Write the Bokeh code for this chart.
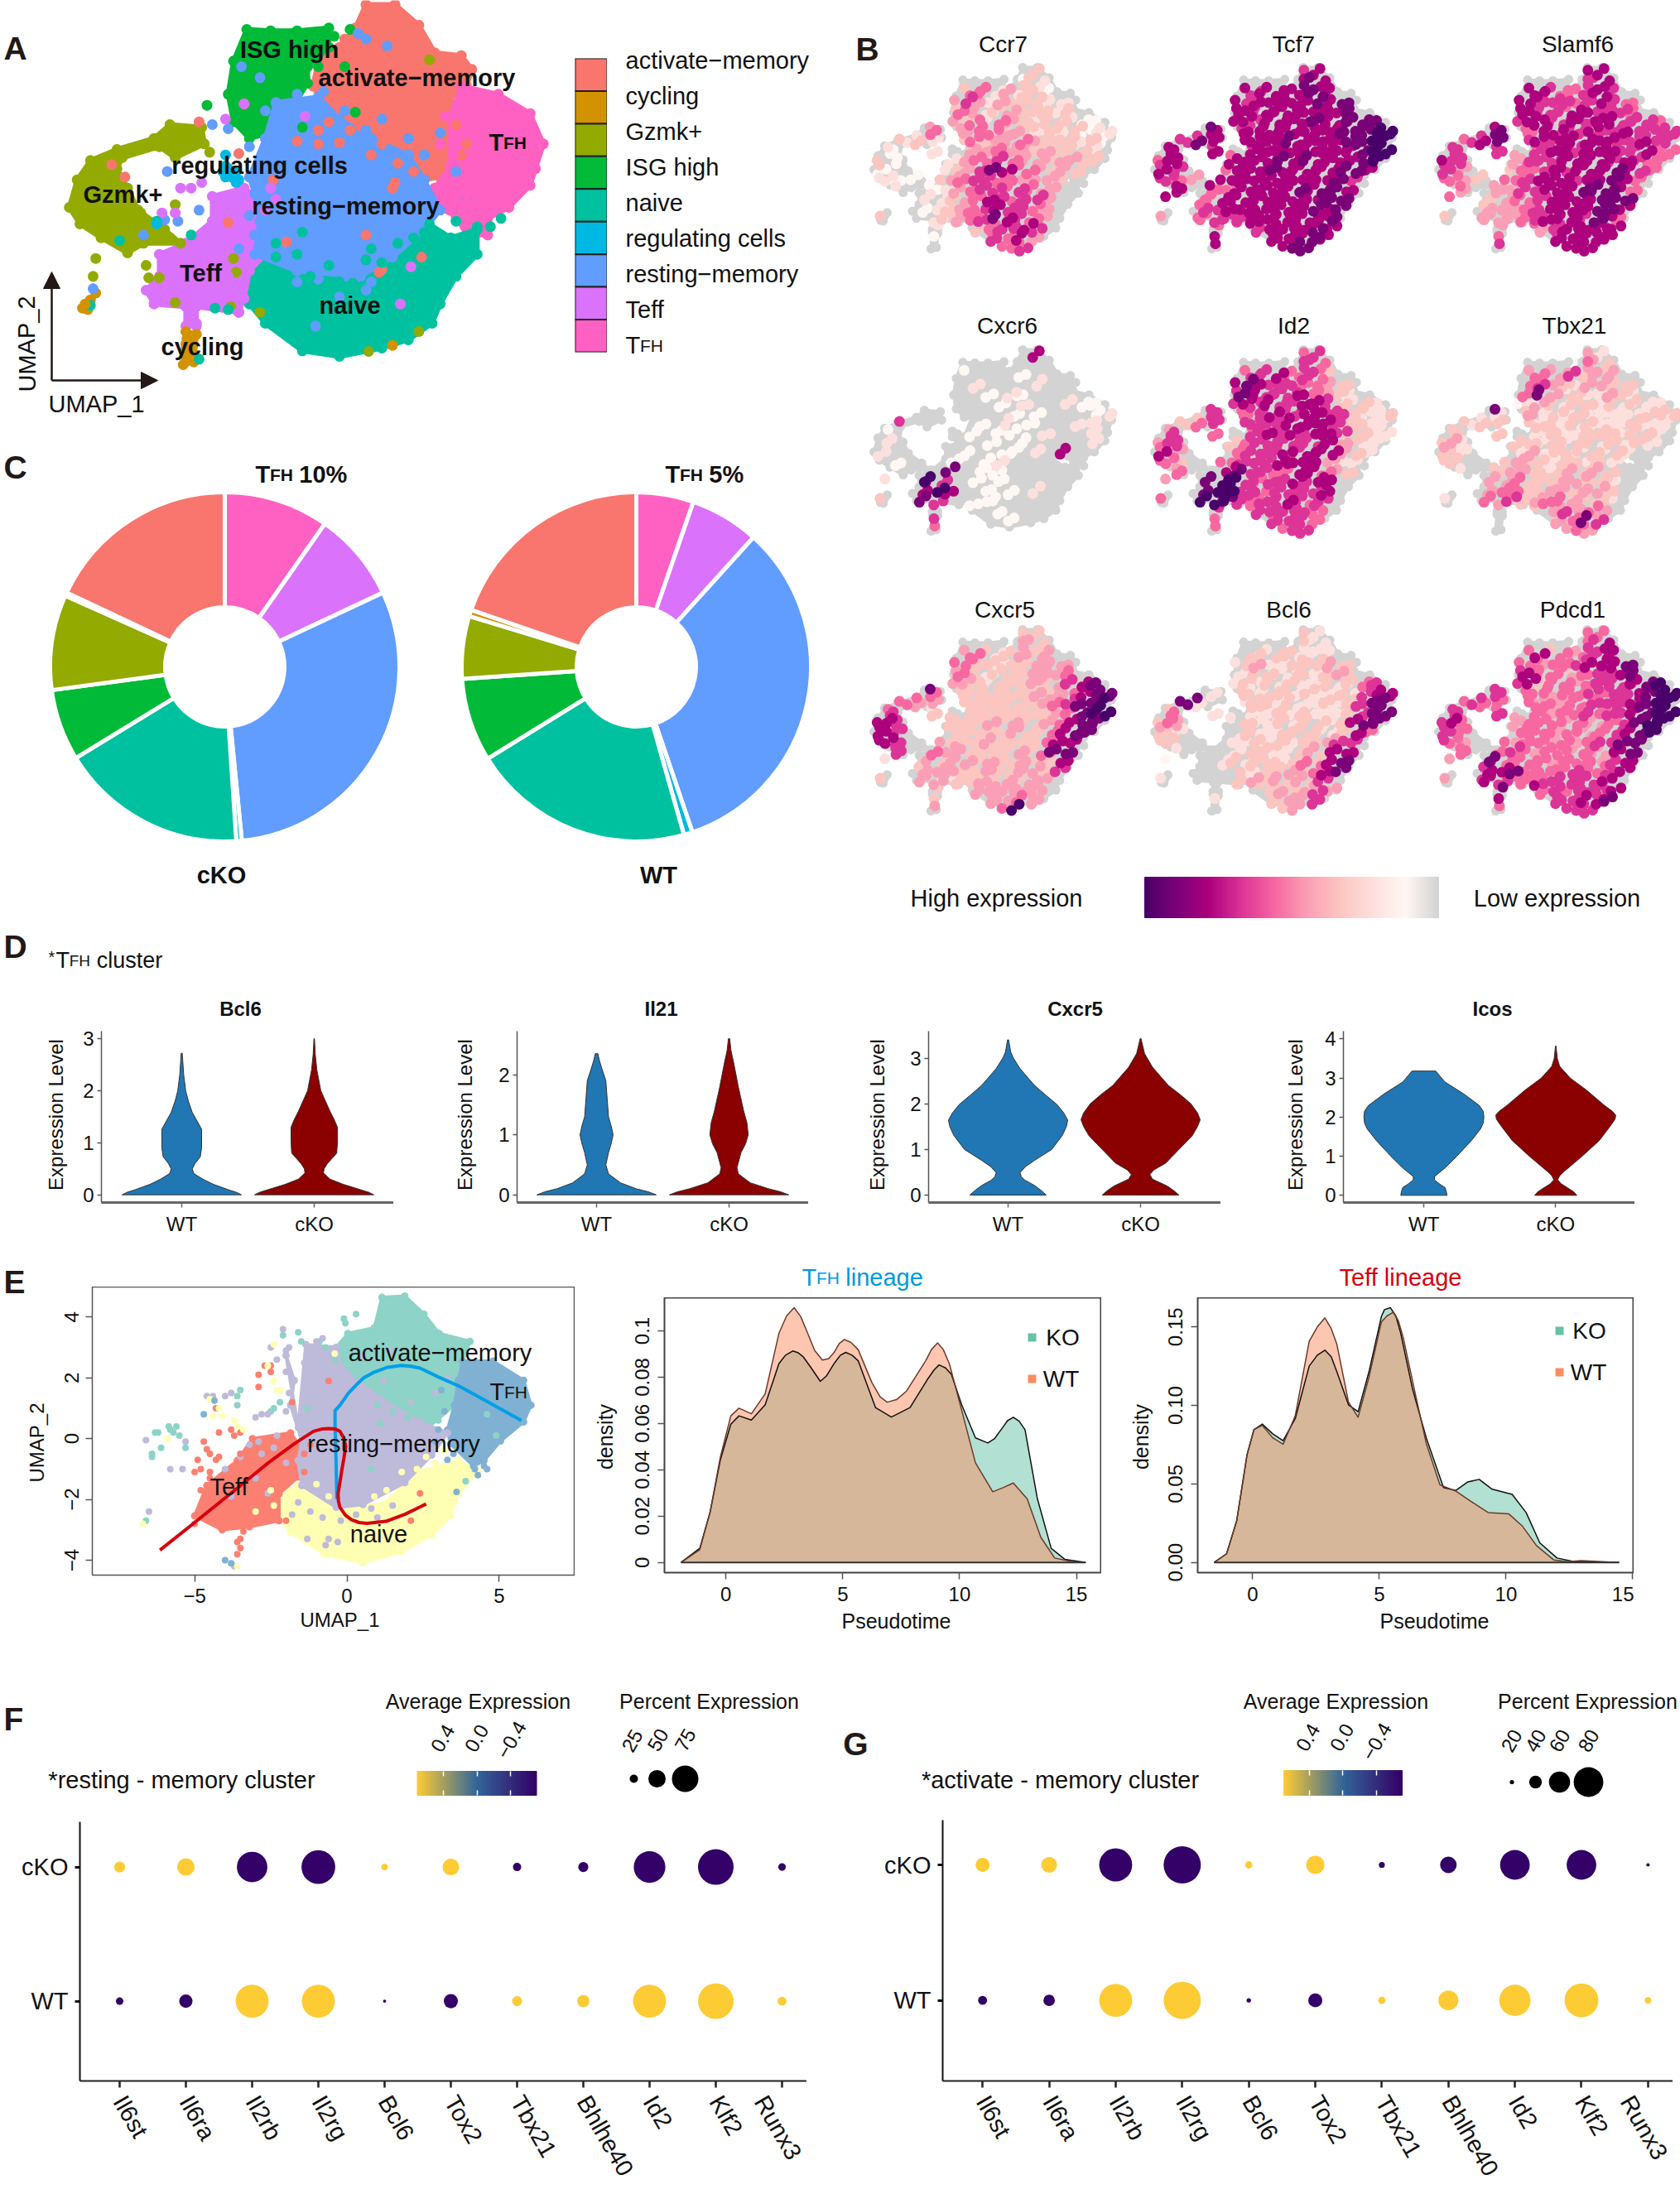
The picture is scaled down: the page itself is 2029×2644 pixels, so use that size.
from bokeh.plotting import figure
from bokeh.layouts import column
from bokeh.models import ColumnDataSource, FixedTicker, Arrow, NormalHead
from bokeh.core.properties import value, field
from bokeh.embed import file_html
from bokeh.resources import INLINE
import math

FONT = "Liberation Sans"
# ---------------------------------------------------------------- data
CLUSTERS = ["activate-memory", "cycling", "Gzmk+", "ISG high", "naive", "regulating cells", "resting-memory", "Teff", "TFH"]
CLUSTER_COLORS = ["#F8766D", "#D39200", "#93AA00", "#00BA38", "#00C19F", "#00B9E3", "#619CFF", "#DB72FB", "#FF61C3"]

# UMAP outlines for panels A/B (hidden axes)
OUT_ACTIVATE = [(690,15),(745,15),(790,90),(820,190),(870,200),(890,250),(880,310),(850,340),(855,400),(850,500),(850,570),(830,640),(800,650),(770,560),(700,500),(640,430),(610,380),(590,310),(600,220),(640,170),(670,100)]
OUT_ISG = [(465,105),(510,110),(560,110),(620,100),(620,170),(580,240),(580,300),(560,360),(510,370),(510,480),(470,500),(440,440),(430,340),(440,220)]
OUT_TFH = [(870,310),(940,340),(1000,410),(1025,520),(1010,610),(1000,670),(960,750),(920,790),(920,850),(880,850),(860,780),(810,740),(820,680),(850,600),(850,420)]
OUT_RESTING = [(520,370),(600,350),(640,430),(700,500),(770,560),(800,650),(830,760),(800,830),(740,930),(680,1000),(560,980),(480,920),(490,800),(480,700),(470,640),(500,500)]
OUT_NAIVE = [(490,920),(560,980),(680,1000),(750,920),(800,800),(850,860),(900,830),(900,920),(860,1000),(830,1100),(815,1170),(770,1230),(720,1260),(640,1290),(570,1270),(500,1170),(470,1100),(460,1000)]
OUT_TEFF = [(400,710),(460,680),(490,720),(510,800),(510,900),(470,980),(460,1080),(450,1130),(370,1110),(370,1180),(350,1180),(350,1110),(290,1100),(275,1050),(300,1000),(300,920),(350,880),(400,800)]
OUT_GZMK = [(130,750),(145,650),(170,580),(220,540),(290,500),(320,450),(380,460),(385,520),(330,570),(300,530),(230,570),(220,610),(240,680),(260,760),(310,830),(340,880),(270,880),(240,915),(190,860),(150,810)]
OUT_CYCLING = [(350,1200),(370,1210),(365,1310),(345,1320)]
OUT_CYCLING2 = [(155,1115),(170,1085),(180,1060),(165,1120)]
OUT_REG = [(425,600),(445,620),(445,660),(425,640)]
OUTLINES = [(OUT_ACTIVATE,0),(OUT_ISG,3),(OUT_TFH,8),(OUT_NAIVE,4),(OUT_TEFF,7),(OUT_RESTING,6),(OUT_GZMK,2),(OUT_CYCLING,1),(OUT_CYCLING2,1),(OUT_REG,5)]

# stray cells of panel A: (x, y, cluster index)
STRAY_A = [(180,935,2),(175,1000,2),(275,960,2),(280,1005,2),(300,1005,2),(265,770,2),(300,820,2),(320,860,2),(330,740,2),(395,550,2),(440,935,2),(445,985,2),(435,1110,2),(490,1130,2),(330,1095,2),(810,215,2),
 (390,380,3),(660,105,3),(670,405,3),(570,460,3),(470,490,3),(600,240,3),(490,460,3),(650,240,3),(600,150,3),(630,130,3),
 (560,510,0),(600,520,0),(640,515,0),(540,875,0),(690,850,0),(715,985,0),(745,660,0),(740,680,0),(795,930,0),(210,595,0),(235,640,0),(375,440,0),(450,555,0),(430,805,0),(515,650,0),(650,140,0),(460,375,0),(600,470,0),(680,455,0),(720,975,0),
 (660,470,0),(720,520,0),(750,590,0),(700,560,0),(780,620,0),(620,440,0),(880,520,0),(870,560,0),(860,450,0),
 (400,450,6),(430,465,6),(675,120,6),(730,165,6),(690,140,6),(315,620,6),(375,760,6),(310,795,6),(335,800,6),(270,850,6),(175,1045,6),(470,530,6),(525,800,6),(830,480,6),(860,620,6),(880,720,6),(455,240,6),(490,280,6),(640,1075,6),(595,1180,6),(690,1050,6),
 (720,430,6),(770,500,6),(650,400,6),(690,470,6),(610,330,6),(800,560,6),(600,1010,6),(650,1000,6),(700,1020,6),(560,1020,6),(470,780,6),(480,850,6),(450,900,6),(500,400,6),(540,380,6),(520,440,6),(560,340,6),
 (380,660,7),(360,680,7),(340,680,7),(330,770,7),(305,770,7),(425,430,7),(575,420,7),(775,965,7),(755,1100,7),(450,1130,7),(370,1170,7),(430,1000,7),(460,375,7),(520,720,7),(510,680,7),(500,760,7),
 (810,810,4),(900,820,4),(925,820,4),(945,790,4),(860,800,4),(890,880,4),(570,840,4),(690,940,4),(640,1020,4),(585,1000,4),(375,1300,4),(170,1105,4),(405,1115,4),(430,1120,4),(360,850,4),(225,870,4),(295,800,4),(520,930,4),(500,980,4),
 (700,900,4),(750,880,4),(620,960,4),(520,880,4),(560,920,4),(720,950,4),(780,860,4),(800,840,4),
 (945,430,8),(930,585,8),(855,560,8),(880,700,8),(880,730,8),(830,520,8),(840,420,8),
 (425,560,5),(430,610,5),(440,640,5),(450,650,5),(420,620,5),(295,810,5),
 (740,1250,1),(695,1272,2),(790,1200,2),(355,1290,1),(350,1245,1),(352,1225,1),(350,1265,1),(160,1100,1)]
STRAY_SIZE_A = 13

# Sampled cells of panels B: row y, the x of the cells in that row
CELL_ROWS = [(35,[700,745]),(105,[680,725,770]),(175,[470,515,560,605,650,695,740,785]),
 (245,[445,490,535,580,625,670,715,760,805,850]),(315,[430,475,520,565,610,655,700,745,790,835,875]),
 (385,[435,480,525,570,615,660,705,750,795,840,885,930,970]),(455,[330,370,450,495,540,585,630,675,720,765,810,855,900,945,990,1015]),
 (525,[230,275,320,365,470,515,560,605,650,695,740,785,830,875,920,965,1010]),(595,[175,215,335,370,480,525,570,615,660,705,750,795,840,885,930,975,1015]),
 (665,[150,195,230,400,445,490,535,580,625,670,715,760,805,850,895,940,985]),(735,[135,180,225,410,455,500,545,590,635,680,725,770,815,860,905,950]),
 (805,[150,195,240,285,390,435,480,525,570,615,660,705,750,795,845,890]),(875,[200,245,330,375,420,465,510,555,600,645,690,735,780,825,875]),
 (945,[175,310,355,400,445,490,535,580,625,670,715,760,805,850]),(1015,[295,340,385,430,475,520,565,610,655,700,745,790,835]),
 (1085,[165,285,330,375,420,465,510,555,600,645,690,735,780,825]),(1155,[360,490,535,580,625,670,715,760,805]),
 (1225,[360,560,605,650,695,740,785]),(1290,[355,620,665,710])]
# Per-cell corrections to those rows, one digit per cell (4 = none)
CELL_DY = "42 315 26153742 5173625148 36271582643 7152648317256 2648153726481537 51736284157362841 36281574263851726 72415836271548362 1637258461735284 5281736425817364 362714825361748 47152638417256 2637185264173 46172538261745 316285174 5274163 3618"
CELL_DX = "26 715 48273615 1736482517 63184725361 2851736418263 7361482573618427 38164725183647251 61748253617482536 25183647251836472 8371625483716254 4627183546271835 716382547163825 38162745381627 5274816352748 16385274163852 742613857 3816274 5274"

# Expression level per cell, row by row: 0 = none, 1..9 = low..high
EXPR_CCR7 = "03 132 35524231 4642433322 35423433323 4352543233211 4544553432323122 32323534454333231 21023445443433320 30102455654434433 3102346875543430 2211345665544430 201124566565440 00223457656640 0123456766540 30023456876540 203566760 1565740 0556"
EXPR_TCF7 = "67 787 76777787 7677777878 77677777778 7767777877888 8767777777788899 66877777877778899 77676777777777899 57757777878777789 6765777877777887 6654777777777786 777557777787887 75577777777788 5667777777878 45566677777778 576777787 7777787 7788"
EXPR_SLAMF6 = "77 667 77655676 7766656765 77665776665 6776676776665 7855776676676666 56786767777766766 66665677677766755 76644666777767655 6643556767778765 5543556777677875 544446677788875 53345567777888 3444567777887 34444567776875 454677777 5677777 6777"
EXPR_CXCR6 = "07 000 10000100 0020000200 00010210000 0000102000211 0000000101000012 60000010201000220 10000101100200020 02000001001000002 0200010011020700 0010010012000000 000080011000000 28960010100000 0797001010200 30860001100000 010010000 6001000 5000"
EXPR_ID2 = "56 665 56675563 7876665543 68766675432 6767667763232 6655676677663223 33566666777763322 46055676767763322 46603566666674322 5740566676777432 5530556667777422 450078665577543 40899656676770 0899665666670 50998656676560 656666650 5566650 5566"
EXPR_TBX21 = "42 543 45446344 0564324433 05842322432 1243233232322 8234232322222333 32333232332223222 33033232233323320 34203323233232320 4320242332323200 3300343323323200 203344323434300 03445333443320 0455334434430 20546345543320 030464540 0345860 0454"
EXPR_CXCR5 = "33 443 45323434 5533233444 45323334445 4432333434678 8533333334345788 55443333333456889 56233333333345899 77633334343345788 7760333334335788 7760433343333577 660544333343588 24334434334337 3444334334436 30442334343440 304444440 3444540 4590"
EXPR_BCL6 = "32 322 03233222 2342233343 02332232343 2323232232356 0233233232232677 88202332322323688 35023223232223688 35420322323323788 4320032233322375 3300022323233466 200002332234377 10023233235378 0000323343578 20000343434360 000343464 2334460 0340"
EXPR_PDCD1 = "55 567 57354567 5545567778 67553456678 6735545666789 6655545565667899 56555454556667899 66565545565667899 67544555454456899 6650555454456789 6540545545456688 550565455454478 47855554555467 6778555565567 46765556666670 875656667 7666778 5666"
GENES_B = [("Ccr7",EXPR_CCR7),("Tcf7",EXPR_TCF7),("Slamf6",EXPR_SLAMF6),("Cxcr6",EXPR_CXCR6),("Id2",EXPR_ID2),("Tbx21",EXPR_TBX21),("Cxcr5",EXPR_CXCR5),("Bcl6",EXPR_BCL6),("Pdcd1",EXPR_PDCD1)]
EXPR_COLORS = ["#D3D3D3","#FFF7F3","#FDE0DD","#FCC5C0","#FA9FB5","#F768A1","#DD3497","#AE017E","#7A0177","#49006A"]

# Panel C shares, clockwise from the top
PIE_ORDER = [8,7,6,5,4,3,2,1,0]
PIE_CKO = [9.7,8.3,30.4,0.5,17.3,6.6,8.8,0.3,18.0]
PIE_WT = [5.3,6.4,33.1,0.8,20.6,7.7,5.8,0.6,19.7]

# Panel D violins: (expression level, half width)
V_BCL6_WT = [(0,.45),(.05,.41),(.09,.36),(.2,.24),(.3,.16),(.41,.09),(.5,.08),(.6,.1),(.73,.14),(.9,.15),(1.26,.15),(1.4,.12),(1.58,.08),(1.8,.05),(2,.03),(2.3,.015),(2.72,.004)]
V_BCL6_KO = [(0,.45),(.05,.41),(.09,.36),(.2,.22),(.3,.12),(.42,.07),(.5,.075),(.6,.1),(.8,.17),(1.0,.175),(1.3,.175),(1.45,.15),(1.6,.12),(1.8,.085),(2,.05),(2.4,.02),(2.7,.008),(3.0,.002)]
V_IL21_WT = [(0,.45),(.05,.39),(.1,.3),(.2,.18),(.35,.09),(.5,.07),(.7,.09),(.85,.11),(1.0,.125),(1.15,.11),(1.3,.09),(1.6,.08),(1.9,.07),(2.1,.04),(2.25,.02),(2.35,.01)]
V_IL21_KO = [(0,.45),(.05,.39),(.1,.3),(.2,.16),(.35,.07),(.45,.06),(.7,.09),(.85,.125),(1.0,.145),(1.2,.135),(1.4,.11),(1.8,.07),(2.2,.035),(2.4,.015),(2.6,.005)]
V_CXCR5_WT = [(0,.288),(.1,.25),(.21,.2),(.32,.13),(.4,.1),(.49,.09),(.62,.13),(.76,.2),(1,.33),(1.31,.41),(1.5,.44),(1.64,.45),(1.8,.42),(1.98,.37),(2.2,.28),(2.4,.2),(2.6,.14),(2.77,.09),(3.0,.04),(3.13,.02),(3.4,.004)]
V_CXCR5_KO = [(0,.29),(.1,.25),(.2,.2),(.35,.09),(.45,.07),(.55,.1),(.7,.19),(1.0,.29),(1.3,.39),(1.5,.43),(1.65,.45),(1.8,.43),(2.0,.38),(2.2,.3),(2.4,.21),(2.6,.15),(2.8,.09),(3.1,.03),(3.43,.003)]
V_ICOS_WT = [(0,.175),(.1,.17),(.2,.16),(.3,.115),(.4,.08),(.48,.08),(.7,.16),(1.0,.25),(1.4,.36),(1.7,.43),(1.85,.45),(2.0,.455),(2.15,.45),(2.3,.42),(2.6,.3),(2.9,.16),(3.18,.09)]
V_ICOS_KO = [(0,.16),(.08,.14),(.15,.11),(.3,.04),(.4,.015),(.5,.03),(.6,.06),(1.0,.2),(1.4,.33),(1.8,.42),(1.95,.45),(2.05,.455),(2.15,.43),(2.3,.37),(2.7,.23),(3.0,.11),(3.3,.03),(3.5,.012),(3.82,.002)]
VIOLINS = [("Bcl6",V_BCL6_WT,V_BCL6_KO,[0,1,2,3]),("Il21",V_IL21_WT,V_IL21_KO,[0,1,2]),("Cxcr5",V_CXCR5_WT,V_CXCR5_KO,[0,1,2,3]),("Icos",V_ICOS_WT,V_ICOS_KO,[0,1,2,3,4])]
GROUP_LABELS = ["WT","cKO"]

# Panel E: outlines and stray cells in UMAP units
E_NAIVE = [(-2.23,-1.81),(-1.6,-1.54),(-.35,-2.26),(1.15,-2.17),(2.4,-1.08),(3.66,-.72),(4.3,-1.08),(3.66,-1.8),(3.4,-2.54),(2.78,-3.17),(1.78,-3.72),(.53,-4.08),(-.73,-3.81),(-1.85,-3.08),(-2.23,-2.54)]
E_TEFF = [(-5,-2.54),(-4.6,-1.54),(-3.6,-.72),(-3.1,0),(-1.85,.19),(-1.48,-.35),(-1.6,-1.26),(-2.23,-1.81),(-2.23,-2.7),(-3.2,-2.9),(-4.1,-3)]
E_RESTING = [(-1.6,.37),(-1.35,3.1),(-.35,3.0),(-.2,2.37),(1.15,1.28),(2.4,.55),(3.3,.19),(2.78,-.54),(1.9,-1.45),(.53,-2.17),(-.35,-2.26),(-1.48,-1.54),(-1.6,-.72),(-1.48,-.08),(-1.85,1.1),(-1.73,1.92),(-2,2.74)]
E_TFH = [(3.8,2.55),(4.8,2.55),(5.8,1.92),(6.04,1.1),(5.8,.55),(5.04,-.08),(4.5,-.72),(4.16,-.9),(3.4,-.17),(3.3,.28),(3.53,1.1),(3.66,1.92)]
E_ACTIVATE = [(1.15,4.65),(1.9,4.69),(2.53,4.1),(3.03,3.46),(4.04,3.2),(3.8,2.55),(3.66,1.92),(3.53,1.1),(2.66,.37),(2.4,.55),(1.15,1.28),(-.2,2.37),(-.35,3.0),(.03,3.46),(.9,3.65)]
E_TEAL = "#8DD3C7"; E_LAV = "#BEBADA"; E_RED = "#FB8072"; E_YEL = "#FFFFB3"; E_BLUE = "#80B1D3"
E_STRAY_TEAL = [(-6.4,-.6),(-6.4,-.5),(-6.3,.2),(-6.2,.2),(-5.8,.3),(-5.7,.2),(-5.85,.4),(-5.6,.4),(-6.1,-.3),(-5.5,.1),(-5.3,-.3),(-6.6,-2.7),(-3.6,1.4),(-3.6,1.1),(-3.5,1.6),(-2.5,.9),(-2.4,1.0),(-2.2,1.2),(-2.1,3.4),(-1.6,3.5),(-1.5,3.2),(-.9,3.2),(-.1,3.95),(.3,4.1),(-.05,3.8),(-1.3,1.0),(-.7,3.0),
 (1,1.1),(1.5,.9),(2,.7),(.3,2.1),(.7,1.8),(-.4,2.6),(1.1,.5),(.8,-1.0),(3,.6),(4.6,.8),(4.9,.1),(3.9,-1.4)]
E_STRAY_LAV = [(-2.1,3.6),(-2.3,2.6),(-2.0,2.9),(-1.9,1.5),(-2.0,.9),(-2.6,.8),(-2.8,.8),(-3.0,.7),(-5.3,-.1),(-6.6,-.05),(-5.8,-1),(-5.4,-1),(-4.4,1.4),(-4.0,1.4),(-3.8,1.5),(-4.6,1.4),(-6.5,-2.4),(-3.2,-.2),(-4,-1.0),(-3.5,-.6),(-3.7,-4.2),(-.6,-3.3),(-.7,-3.5),(-.3,-3.4),(-1.3,-3.3),(-2.5,3.0),(-2.0,2.2),(-1.9,3.0),
 (-.8,-2.6),(-1.2,-2.4),(-.2,-2.7),(.3,-2.5),(1,-2.6),(.8,-2.3),(1.5,-2.2),(-1.6,-2.1),(-1.8,-2.5),(.5,2.7),(1.4,2.9),(1.2,1.9),(2.1,1.2),(2.9,1.5),(3.3,2),(-2.4,-.3),(-2,-.8),(-3,-1.3),(-2.6,-1.8),(-3.8,-1.9),(-2.9,-.1),(-2.3,.1),(-2.8,-.5),(-1,3.2),(-.8,3.3),(-1.4,2.5)]
E_STRAY_RED = [(-4.6,-.35),(-4.7,-.1),(-4.5,-.5),(-4.2,-.6),(-4.3,-.7),(-4.9,-.7),(-4.8,-1.0),(-4.5,-1.3),(-5,-1.1),(-4.2,.2),(-3.8,.3),(-3.7,.1),(-3.5,.2),(-2.9,2.1),(-2.9,1.7),(-2.7,2.4),(-2.5,2.4),(-2.5,2.2),(-3.6,-3.4),(-3.5,-3.6),(-3.6,-3.8),(-3.5,-3.3),(-3.5,-5e-1),(-2,-2.7),(-4.3,1.0),(-1.8,1.2),(-.6,1.9),(2.4,-1.8),(2.1,-2.7),(-1.4,-1.1),(-1.4,-.5),(-1.2,-.2),(-5,-2.8),(-4.8,-1.7),(-4.5,-1.1),(-3.4,-3.05)]
E_STRAY_YEL = [(-4.5,1.3),(-4.2,1.0),(-4.4,.75),(-2.4,1.9),(-2.3,1.6),(-2.2,1.6),(-4.1,.75),(-3.7,.6),(-5.9,-.0),(-6.7,-2.8),(-3.6,-4.2),(-2.6,2.4),(-3.4,.3),(-3.6,.4),(-2.4,3.1),(-.4,2.8),(1.8,-1.1),(2.3,-1),(1.3,-1.7),(.9,-1.9),(-.6,-1.9),(-1,-1.5),(2.6,-.6),(2.9,-.8),(3.2,-.4),(-2.4,-2.2),(-2.5,-1.7),(-3,-2.4)]
E_STRAY_BLUE = [(4.6,-1),(4.2,-1),(3.6,-1.75),(-3.8,-4.1),(-4.0,-4.0),(-4.35,1.25),(-4.7,.8),(4.3,-1.2),(4.5,-.9),(3.2,.9),(3.1,1.6),(3,.3),(2.9,-.1),(3.3,-.7),(3.5,-.5)]
# Panel E principal curves
CURVE_TFH = [(-.33,-1.99),(-.36,-.63),(-.39,.37),(-.39,.92),(-.23,1.1),(.05,1.5),(.28,1.74),(.55,2.0),(.9,2.19),(1.3,2.34),(1.78,2.41),(2.1,2.38),(2.4,2.32),(3.0,2.03),(3.66,1.74),(4.66,1.19),(5.73,.6)]
CURVE_TEFF = [(-6.14,-3.67),(-5,-2.76),(-3.6,-1.63),(-2.6,-.81),(-1.73,-.17),(-1.1,.24),(-.8,.32),(-.6,.33),(-.38,.32),(-.23,.24),(-.1,.02),(-.04,-.26),(-.1,-.65),(-.16,-.99),(-.29,-1.81),(-.28,-2.05),(-.23,-2.26),(-.05,-2.52),(.15,-2.67),(.4,-2.76),(.65,-2.79),(1.28,-2.72),(1.9,-2.49),(2.6,-2.15)]

# Panel E densities
D1_KO_X = [-1.92,-1.12,-.68,-.24,.21,.56,1.09,1.68,2.27,2.55,2.86,3.10,3.30,3.65,4.04,4.30,4.63,4.90,5.13,5.40,5.66,6.40,7.08,7.88,8.61,8.90,9.12,9.40,9.65,10.09,10.68,11.21,11.50,11.86,12.05,12.30,12.55,12.80,13.33,13.92,14.51,15.40]
D1_KO_Y = [0,.0061,.0216,.0442,.0597,.0633,.0615,.0681,.0859,.0895,.0913,.0905,.0889,.0840,.0782,.0805,.0859,.0895,.0907,.0895,.0871,.0669,.0628,.0669,.0788,.0830,.0853,.0840,.0812,.0681,.0538,.0516,.0535,.0585,.0612,.0627,.0610,.0573,.0275,.0061,.0013,0]
D1_WT_X = [-1.92,-1.12,-.68,-.24,.21,.56,1.09,1.68,2.27,2.60,2.92,3.20,3.45,3.80,4.13,4.40,4.63,4.85,5.07,5.35,5.66,6.25,6.60,6.90,7.30,7.73,8.55,8.80,9.06,9.30,9.56,10.09,10.68,11.42,11.86,12.30,12.89,13.48,14.07,14.96]
D1_WT_Y = [0,.0055,.0216,.0454,.0633,.0666,.0642,.0728,.0990,.1065,.1100,.1062,.1002,.0915,.0874,.0880,.0907,.0945,.0963,.0950,.0919,.0776,.0715,.0692,.0703,.0740,.0871,.0920,.0948,.0920,.0859,.0657,.0430,.0305,.0323,.0343,.0275,.0108,.0019,0]
D2_KO_X = [-1.52,-1.03,-.63,-.22,.05,.38,.79,1.20,1.68,2.23,2.55,2.85,3.10,3.32,3.78,4.16,4.59,5.08,5.20,5.43,5.65,5.84,6.30,6.85,7.53,8.02,8.48,8.94,9.43,10.24,10.79,11.33,12.01,12.69,14.46]
D2_KO_Y = [0,.0055,.0266,.0688,.0846,.0881,.0819,.0775,.0916,.1250,.1320,.1352,.1310,.1215,.1004,.0960,.1215,.1567,.1610,.1623,.1570,.1461,.1110,.0793,.0477,.0459,.0512,.0529,.0468,.0433,.0318,.0125,.0028,.0005,0]
D2_WT_X = [-1.52,-1.03,-.63,-.22,.05,.38,.79,1.20,1.68,2.23,2.55,2.85,3.10,3.32,3.78,4.16,4.59,5.08,5.30,5.54,5.75,5.95,6.44,6.85,7.39,8.02,8.61,9.29,10.11,10.65,11.20,11.88,12.42,12.97,14.46]
D2_WT_Y = [0,.0055,.0266,.0688,.0846,.0873,.0794,.0753,.0934,.1408,.1500,.1558,.1490,.1391,.1022,.0925,.1180,.1532,.1570,.1593,.1540,.1426,.1057,.0758,.0494,.0454,.0389,.0318,.0309,.0230,.0107,.0016,.0005,.0011,0]

# Panels F, G
DOT_GENES = ["Il6st","Il6ra","Il2rb","Il2rg","Bcl6","Tox2","Tbx21","Bhlhe40","Id2","Klf2","Runx3"]
F_PCT_CKO = [32,50,86,95,20,48,25,30,89,100,23]
F_PCT_WT = [23,39,93,93,11,41,30,36,93,100,27]
F_AVG_CKO = [.7,.7,-.7,-.7,.7,.7,-.7,-.7,-.7,-.7,-.7]
F_AVG_WT = [-.7,-.7,.7,.7,-.7,-.7,.7,.7,.7,.7,.7]
G_PCT_CKO = [43,47,88,98,27,53,24,49,80,80,18]
G_PCT_WT = [31,37,88,98,20,43,27,57,84,90,25]
G_AVG_CKO = F_AVG_CKO
G_AVG_WT = F_AVG_WT
F_LEG_PCT = [25,50,75]
G_LEG_PCT = [20,40,60,80]

# ---------------------------------------------------------------- helpers
SHIFT = 120
figs = []
def panel(x0,y0,x1,y1,xr,yr,l=0,r=0,t=0,b=0):
    l=SHIFT
    p = figure(width=int(x1-x0+l+r),height=int(y1-y0+t+b),x_range=xr,y_range=yr,
               output_backend="svg",toolbar_location=None,min_border=0,
               min_border_left=l,min_border_right=r,min_border_top=t,min_border_bottom=b)
    p.styles = {"position":"absolute","left":f"{x0-l+SHIFT}px","top":f"{y0-t}px"}
    p.background_fill_color=None; p.border_fill_color=None; p.outline_line_color=None
    p.grid.visible=False; p.axis.visible=False
    figs.append(p)
    return p

def style_axis(ax,size=24,color="#222222",tick=6,width=1.5,tickw=1.5,stand=6):
    ax.visible=True
    ax.major_label_text_font=FONT; ax.major_label_text_font_size=f"{size}px"
    ax.major_label_text_color="#111111"
    ax.axis_line_color=color; ax.axis_line_width=width
    ax.major_tick_line_color=color; ax.major_tick_line_width=tickw
    ax.major_tick_out=tick; ax.major_tick_in=0
    ax.minor_tick_line_color=None; ax.major_label_standoff=stand

def lerp(stops,t):
    t=max(0,min(1,t))*(len(stops)-1); i=min(int(t),len(stops)-2); f=t-i
    a=stops[i];b=stops[i+1]
    c=[int(a[k:k+2],16)*(1-f)+int(b[k:k+2],16)*f for k in (1,3,5)]
    return "#%02X%02X%02X"%tuple(int(round(v)) for v in c)

texts=[]
def T(x,y,s,size,bold=False,align="center",angle=0,color="#111111"):
    texts.append(dict(x=x,y=y,t=s,size=f"{size}px",style="bold" if bold else "normal",align=align,angle=math.radians(angle),color=color))
def tfh(x,y,size,bold=False,rest="",color="#111111"):
    T(x,y,"T",size,bold,"left",0,color)
    T(x+.60*size,y+.04*size,"FH",round(size*.72),bold,"left",0,color)
    if rest: T(x+1.56*size+.26*size,y,rest,size,bold,"left",0,color)

# ---------------------------------------------------------------- panel A
pa = panel(0,0,1000,520,(0,1563),(1560,0))
for pts,ci in OUTLINES:
    xs=[a for a,_ in pts]; ys=[b for _,b in pts]
    pa.patch(xs,ys,fill_color=CLUSTER_COLORS[ci],line_color=CLUSTER_COLORS[ci],line_width=6)
    pa.scatter(xs,ys,size=STRAY_SIZE_A,fill_color=CLUSTER_COLORS[ci],line_color=None)
pa.scatter([a for a,_,_ in STRAY_A],[b for _,b,_ in STRAY_A],size=STRAY_SIZE_A,
           fill_color=[CLUSTER_COLORS[c] for *_,c in STRAY_A],line_color=None)
for (x,y,s) in [(349,59,"ISG high"),(503,93,"activate\u2212memory"),(313,199,"regulating cells"),(417,248,"resting\u2212memory"),(148,234,"Gzmk+"),(242,329,"Teff"),(422,368,"naive"),(244,418,"cycling")]:
    T(x,y,s,29,True)
tfh(590,171,29,True)
T(32,415,"UMAP_2",29,False,"center",90); T(116,487,"UMAP_1",29)
# legend
pl = panel(694,70,733,425,(0,1),(len(CLUSTERS),0),t=4,b=4)
pl.quad(left=[0]*9,right=[1]*9,top=list(range(9)),bottom=list(range(1,10)),fill_color=CLUSTER_COLORS,line_color="#222222",line_width=2)
for i,c in enumerate(CLUSTERS[:-1]):
    T(755,72+i*43,c.replace("-","\u2212"),29,False,"left")
tfh(755,416,29)

# ---------------------------------------------------------------- panel B
B_POS = [(1055,81),(1394,81),(1737,81),(1055,422),(1394,422),(1737,422),(1055,760),(1394,760),(1737,760)]
B_TITLES = [(1211,53),(1562,53),(1905,53),(1216,393),(1562,393),(1901,393),(1213,736),(1556,736),(1899,736)]
SX=287/895; SY=219/1305
for (gene,expr),(px,py),(tx,ty) in zip(GENES_B,B_POS,B_TITLES):
    m=12
    pb=panel(px-m,py-m,px+287+m,py+219+m,(130-m/SX,1025+m/SX),(1320+m/SY,15-m/SY))
    for pts,ci in OUTLINES:
        xs=[a for a,_ in pts]; ys=[b for _,b in pts]
        pb.patch(xs,ys,fill_color=EXPR_COLORS[0],line_color=EXPR_COLORS[0],line_width=4)
        pb.scatter(xs,ys,size=11,fill_color=EXPR_COLORS[0],line_color=None)
    rows=expr.split()
    X=[];Y=[];V=[]
    for (y,xs),r,rdx,rdy in zip(CELL_ROWS,rows,CELL_DX.split(),CELL_DY.split()):
        r=r.ljust(len(xs),"0")
        for i,(x,d,ox,oy) in enumerate(zip(xs,r,rdx,rdy)):
            dx=int(ox)-4; dy=int(oy)-4
            X.append(x+dx*4);Y.append(y+dy*6);V.append(int(d))
            # each sampled cell has a close neighbour carrying the next reading of the row
            if i+1<len(r) and xs[min(i+1,len(xs)-1)]-x<60:
                X.append(x+22-dx*3);Y.append(y+35-dy*4);V.append(int(r[i+1]))
    order=sorted(range(len(X)),key=lambda i:V[i])
    order=[i for i in order if V[i]>0]
    pb.scatter([X[i] for i in order],[Y[i] for i in order],size=13,fill_color=[EXPR_COLORS[V[i]] for i in order],line_color=None)
    T(tx,ty,gene,28)
T(1203,1084,"High expression",29); T(1880,1084,"Low expression",29)

# ---------------------------------------------------------------- panel C
for vals,cx,cy,lab,lx in [(PIE_CKO,271,805,"cKO",267),(PIE_WT,768,805,"WT",795)]:
    pc=panel(cx-215,cy-215,cx+215,cy+215,(-215/211,215/211),(-215/211,215/211))
    tot=sum(vals); a=math.pi/2
    st=[];en=[];col=[]
    for v,ci in zip(vals,PIE_ORDER):
        b=a-2*math.pi*v/tot
        st.append(b);en.append(a);col.append(CLUSTER_COLORS[ci]);a=b
    pc.annular_wedge(x=[0]*9,y=[0]*9,inner_radius=72/211,outer_radius=1,start_angle=st,end_angle=en,fill_color=col,line_color="white",line_width=5)
    T(lx,1056,lab,29,True)
tfh(308,572,29,True,"10%"); tfh(803,572,29,True,"5%")

# ---------------------------------------------------------------- panel D
tfh(67,1159,27,False,"cluster"); T(58,1155,"*",20,False,"left")
V_GEOM=[(122,475,(.394,2.6),(-.149,3.144),290,67),(624,976,(.4,2.6),(-.129,2.725),798,561),(1121,1474,(.4,2.606),(-.164,3.59),1298,1059),(1622,1974,(.39,2.6),(-.184,4.2),1802,1564)]
for (gene,wt,ko,ticks),(x0,x1,xr,yr,tx,lx) in zip(VIOLINS,V_GEOM):
    pv=panel(x0,1245,x1,1452,xr,yr,b=44,t=20)
    for c,prof,col in [(1,wt,"#2077B4"),(2,ko,"#8B0000")]:
        xs=[c+h for _,h in prof]+[c-h for _,h in reversed(prof)]
        ys=[y for y,_ in prof]+[y for y,_ in reversed(prof)]
        pv.patch(xs,ys,fill_color=col,line_color="#333333",line_width=1)
    style_axis(pv.xaxis[0],24,"#666666",6,3,1.5,6)
    style_axis(pv.yaxis[0],24,"#555555",5,1.5,1.5,4)
    pv.xaxis.ticker=FixedTicker(ticks=[1,2]); pv.xaxis.major_label_overrides={1:GROUP_LABELS[0],2:GROUP_LABELS[1]}
    pv.yaxis.ticker=FixedTicker(ticks=ticks)
    T(tx,1218,gene,24,True); T(lx,1346,"Expression Level",24,False,"center",90)

# ---------------------------------------------------------------- panel E
pe=panel(111,1554,694,1902,(-8.36,7.49),(-4.49,4.99),b=50)
for poly,col in [(E_NAIVE,E_YEL),(E_ACTIVATE,E_TEAL),(E_TFH,E_BLUE),(E_TEFF,E_RED),(E_RESTING,E_LAV)]:
    xs=[a for a,_ in poly]; ys=[b for _,b in poly]
    pe.patch(xs,ys,fill_color=col,line_color=col,line_width=4)
    pe.scatter(xs,ys,size=9,fill_color=col,line_color=None)
for pts,col in [(E_STRAY_TEAL,E_TEAL),(E_STRAY_LAV,E_LAV),(E_STRAY_RED,E_RED),(E_STRAY_YEL,E_YEL),(E_STRAY_BLUE,E_BLUE)]:
    pe.scatter([a for a,_ in pts],[b for _,b in pts],size=8,fill_color=col,line_color=None)
pe.line([a for a,_ in CURVE_TFH],[b for _,b in CURVE_TFH],line_color="#009FE8",line_width=4)
pe.line([a for a,_ in CURVE_TEFF],[b for _,b in CURVE_TEFF],line_color="#D7000F",line_width=4)
pe.outline_line_color="#555555"; pe.outline_line_width=1.5
style_axis(pe.xaxis[0],24,"#555555",8,0.01,1.5,8); pe.xaxis.axis_line_color=None
style_axis(pe.yaxis[0],24,"#555555",8,0.01,1.5,8); pe.yaxis.axis_line_color=None
pe.xaxis.ticker=FixedTicker(ticks=[-5,0,5]); pe.xaxis.major_label_overrides={-5:"\u22125",0:"0",5:"5"}
pe.yaxis.ticker=FixedTicker(ticks=[-4,-2,0,2,4]); pe.yaxis.major_label_overrides={-4:"\u22124",-2:"\u22122",0:"0",2:"2",4:"4"}
pe.yaxis.major_label_orientation="vertical"
T(531,1633,"activate\u2212memory",29); T(475,1743,"resting\u2212memory",29); T(276,1795,"Teff",29); T(457,1852,"naive",29)
tfh(591,1680,29)
T(410,1956,"UMAP_1",24); T(44,1742,"UMAP_2",24,False,"center",90)

DENS=[(802,1330,(-2.63,16.08),(-.0044,.1143),D1_KO_X,D1_KO_Y,D1_WT_X,D1_WT_Y,[0,.02,.04,.06,.08,.1],{0:"0",.02:"0.02",.04:"0.04",.06:"0.06",.08:"0.08",.1:"0.1"}),
      (1446,1973,(-2.17,15.05),(-.0065,.1686),D2_KO_X,D2_KO_Y,D2_WT_X,D2_WT_Y,[0,.05,.1,.15],{0:"0.00",.05:"0.05",.1:"0.10",.15:"0.15"})]
for x0,x1,xr,yr,kx,ky,wx,wy,tk,ov_lab in DENS:
    pd=panel(x0,1567,x1,1899,xr,yr,b=50)
    pd.patch(kx,ky,fill_color="#66C2A5",fill_alpha=.5,line_color=None)
    pd.patch(wx,wy,fill_color="#FC8D62",fill_alpha=.5,line_color=None)
    pd.line(kx,ky,line_color="#111111",line_width=1.5,line_join="round")
    pd.line(wx,wy,line_color="#6B3A2A",line_width=1.5,line_join="round")
    pd.line([kx[0],kx[-1]],[0,0],line_color="#333333",line_width=2)
    pd.outline_line_color="#444444"; pd.outline_line_width=2
    style_axis(pd.xaxis[0],24,"#555555",8,.01,1.5,9); pd.xaxis.axis_line_color=None
    style_axis(pd.yaxis[0],24,"#555555",8,.01,1.5,10); pd.yaxis.axis_line_color=None
    pd.xaxis.ticker=FixedTicker(ticks=[0,5,10,15])
    pd.yaxis.ticker=FixedTicker(ticks=tk); pd.yaxis.major_label_overrides=ov_lab
    pd.yaxis.major_label_orientation="vertical"
tfh(968,1542,29,False,"lineage","#0099DD")
T(1691,1542,"Teff lineage",29,False,"center",0,"#D7000F")
T(1082,1957,"Pseudotime",25); T(1732,1957,"Pseudotime",25)
T(730,1735,"density",25,False,"center",90); T(1377,1735,"density",25,False,"center",90)
T(1283,1615,"KO",28); T(1281,1665,"WT",28); T(1919,1607,"KO",28); T(1918,1657,"WT",28)

# ---------------------------------------------------------------- panels F, G
RAMP=["#FFCC33","#336699","#330066"]
def avg_color(a): return lerp(RAMP,(0.707-a)/1.414)
def dotplot(x0,x1,y0,y1,xr,yr,cko,wt,acko,awt,sz):
    pf=panel(x0,y0,x1,y1,xr,yr,b=2644-y1)
    xs=list(range(1,12))*2
    ys=[2]*11+[1]*11
    pct=cko+wt; av=acko+awt
    pf.scatter(xs,ys,size=[sz(v) for v in pct],fill_color=[avg_color(a) for a in av],line_color=None)
    style_axis(pf.xaxis[0],29,"#222222",8,2,2.5,12)
    style_axis(pf.yaxis[0],29,"#111111",6,2,3,8)
    pf.xaxis.ticker=FixedTicker(ticks=list(range(1,12)))
    pf.xaxis.major_label_overrides={i+1:g for i,g in enumerate(DOT_GENES)}
    pf.xaxis.major_label_orientation=math.radians(-60)
    pf.yaxis.ticker=FixedTicker(ticks=[1,2]); pf.yaxis.major_label_overrides={1:"WT",2:"cKO"}
sz_f=lambda v:.44*v-1
sz_g=lambda v:.51*v-5
dotplot(96,974,2200,2515,(.4,11.375),(.405,2.337),F_PCT_CKO,F_PCT_WT,F_AVG_CKO,F_AVG_WT,sz_f)
dotplot(1138,2020,2198,2518,(.4,11.375),(.405,2.33),G_PCT_CKO,G_PCT_WT,G_AVG_CKO,G_AVG_WT,sz_g)

T(219,2149,"*resting - memory cluster",29); T(1280,2149,"*activate - memory cluster",29)
T(577,2054,"Average Expression",25); T(856,2054,"Percent Expression",25)
T(1613,2054,"Average Expression",25); T(1917,2054,"Percent Expression",25)
for x,y,s in [(534,2099,"0.4"),(575,2099,"0.0"),(617,2101,"\u22120.4"),(1579,2098,"0.4"),(1620,2098,"0.0"),(1662,2103,"\u22120.4"),(763,2102,"25"),(794,2101,"50"),(827,2101,"75"),(1825,2102,"20"),(1854,2102,"40"),(1883,2102,"60"),(1918,2102,"80")]:
    T(x,y,s,24,False,"center",60)

# panel letters
for x,y,s in [(18,58,"A"),(1047,59,"B"),(18,564,"C"),(18,1143,"D"),(17,1548,"E"),(16,2076,"F"),(1033,2106,"G")]:
    T(x,y,s,39,True,"center",0,"#231815")

# ---------------------------------------------------------------- page overlay (texts, keys)
ov=panel(0,0,2029,2644,(0,2029),(2644,0))
# colour keys
def gradient(x0,x1,y0,y1,stops,n=120):
    e=[x0+(x1-x0)*i/n for i in range(n+1)]
    cols=[lerp(stops,(i+.5)/n) for i in range(n)]
    ov.quad(left=e[:-1],right=e[1:],top=[y0]*n,bottom=[y1]*n,fill_color=cols,line_color=cols,line_width=1)
gradient(1382,1737,1059,1108,EXPR_COLORS[:0:-1]+[EXPR_COLORS[0]])
gradient(503.5,647.5,2139,2168,RAMP); gradient(1550,1693,2138,2168,RAMP)
ov.segment(x0=[535,576,616],x1=[535,576,616],y0=[2139]*3,y1=[2145]*3,line_color="white",line_width=1.5)
ov.segment(x0=[535,576,616],x1=[535,576,616],y0=[2162]*3,y1=[2168]*3,line_color="white",line_width=1.5)
ov.segment(x0=[1581,1621,1662],x1=[1581,1621,1662],y0=[2138]*3,y1=[2144]*3,line_color="white",line_width=1.5)
ov.segment(x0=[1581,1621,1662],x1=[1581,1621,1662],y0=[2162]*3,y1=[2168]*3,line_color="white",line_width=1.5)
ov.scatter([765,793,827],[2148]*3,size=[sz_f(v)+0 for v in F_LEG_PCT],fill_color="black",line_color=None)
ov.scatter([1825.5,1854,1883,1918],[2152]*4,size=[sz_g(v) for v in G_LEG_PCT],fill_color="black",line_color=None)
# density keys
ov.quad(left=[1241,1241,1878,1878],right=[1251,1251,1888,1888],top=[1610,1660,1602,1652],bottom=[1620,1670,1612,1662],fill_color=["#66C2A5","#FC8D62","#66C2A5","#FC8D62"],line_color=None)
# UMAP arrows
ov.add_layout(Arrow(end=NormalHead(size=20,fill_color="#231815",line_color="#231815"),x_start=62,y_start=459,x_end=62,y_end=328,line_color="#231815",line_width=2.5))
ov.add_layout(Arrow(end=NormalHead(size=20,fill_color="#231815",line_color="#231815"),x_start=62,y_start=459,x_end=190,y_end=459,line_color="#231815",line_width=2.5))
src=ColumnDataSource({k:[d[k] for d in texts] for k in texts[0]})
ov.text(x="x",y="y",text="t",source=src,text_font=value(FONT),text_font_size=field("size"),text_font_style=field("style"),
        text_align=field("align"),text_baseline="middle",angle=field("angle"),text_color=field("color"))

root=column(*figs,width=2029+SHIFT,height=2644,sizing_mode="fixed")
root.styles={"position":"absolute","left":f"-{SHIFT}px","top":"0px"}
open("out.html","w").write(file_html(root,INLINE))
